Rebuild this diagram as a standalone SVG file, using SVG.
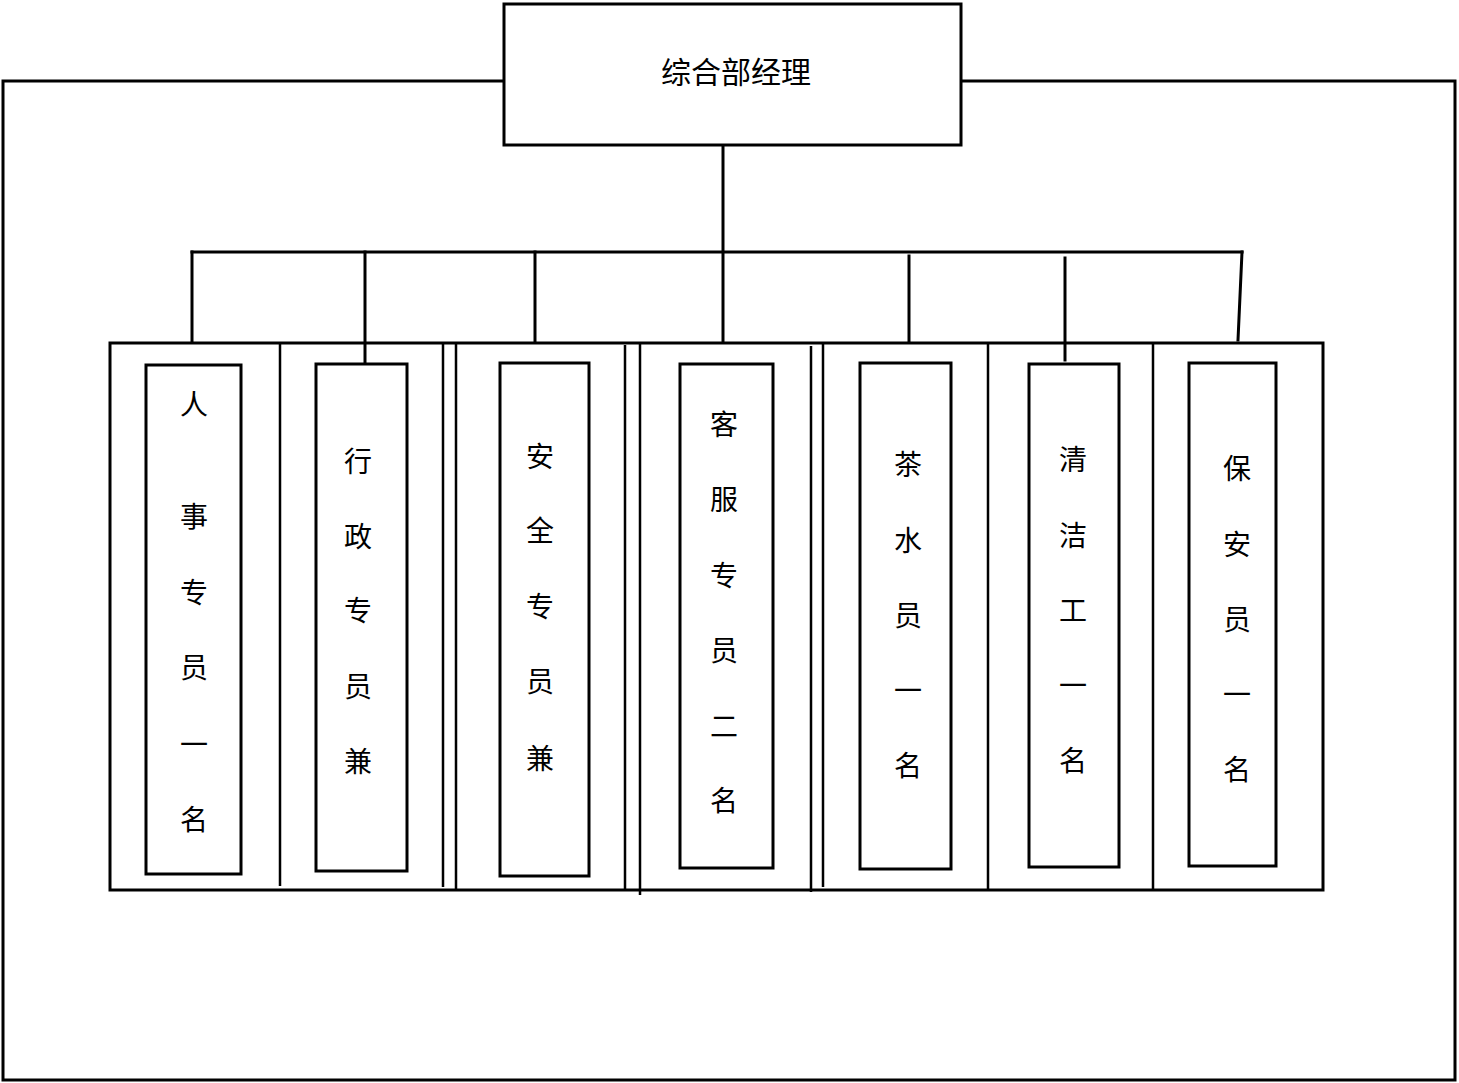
<svg xmlns="http://www.w3.org/2000/svg" width="1459" height="1083" viewBox="0 0 1459 1083">
<style>
.ln{stroke:#000;stroke-width:3;fill:none;stroke-linecap:square}
.dv{stroke:#000;stroke-width:2.5;fill:none}
.bx{stroke:#000;stroke-width:3;fill:#fff}
.t{font-family:"Liberation Serif","Noto Sans CJK SC",serif;font-size:28px;fill:#000;text-anchor:middle}
.tt{font-family:"Liberation Serif","Noto Sans CJK SC",serif;font-size:30px;fill:#000;text-anchor:middle}
</style>
<rect width="1459" height="1083" fill="#fff"/>
<g id="connectors">
<polyline class="ln" points="503,81 3,81 3,1080 1455,1080 1455,81 961,81"/>
<line class="ln" x1="723" y1="146" x2="723" y2="342"/>
<line class="ln" x1="192" y1="252" x2="1242" y2="252"/>
<line class="ln" x1="192" y1="252" x2="192" y2="342"/>
<line class="ln" x1="365" y1="252" x2="365" y2="362"/>
<line class="ln" x1="535" y1="252" x2="535" y2="342"/>
<line class="ln" x1="909" y1="256" x2="909" y2="342"/>
<line class="ln" x1="1065" y1="258" x2="1065" y2="360"/>
<line class="ln" x1="1242" y1="252" x2="1238" y2="340"/>
</g>
<g id="manager">
<rect class="bx" x="504" y="4" width="457" height="141"/>
<text class="tt" x="736" y="83">综合部经理</text>
</g>
<g id="panel">
<rect class="ln" x="110" y="343" width="1213" height="547"/>
<line class="dv" x1="280" y1="343" x2="280" y2="886"/>
<line class="dv" x1="443" y1="343" x2="443" y2="887"/>
<line class="dv" x1="456" y1="343" x2="456" y2="889"/>
<line class="dv" x1="625" y1="345" x2="625" y2="890"/>
<line class="dv" x1="640" y1="343" x2="640" y2="895"/>
<line class="dv" x1="811" y1="346" x2="811" y2="892"/>
<line class="dv" x1="823" y1="343" x2="823" y2="887"/>
<line class="dv" x1="988" y1="343" x2="988" y2="889"/>
<line class="dv" x1="1153" y1="343" x2="1153" y2="889"/>
</g>
<g id="n1">
<rect class="bx" x="146" y="365" width="95" height="509"/>
<text class="t" x="194" y="415">人</text>
<text class="t" x="194" y="527">事</text>
<text class="t" x="194" y="603">专</text>
<text class="t" x="194" y="678">员</text>
<text class="t" x="194" y="755">一</text>
<text class="t" x="194" y="830">名</text>
</g>
<g id="n2">
<rect class="bx" x="316" y="364" width="91" height="507"/>
<text class="t" x="358" y="472">行</text>
<text class="t" x="358" y="547">政</text>
<text class="t" x="358" y="621">专</text>
<text class="t" x="358" y="697">员</text>
<text class="t" x="358" y="772">兼</text>
</g>
<g id="n3">
<rect class="bx" x="500" y="363" width="89" height="513"/>
<text class="t" x="540" y="467">安</text>
<text class="t" x="540" y="541">全</text>
<text class="t" x="540" y="617">专</text>
<text class="t" x="540" y="692">员</text>
<text class="t" x="540" y="769">兼</text>
</g>
<g id="n4">
<rect class="bx" x="680" y="364" width="93" height="504"/>
<text class="t" x="724" y="435">客</text>
<text class="t" x="724" y="510">服</text>
<text class="t" x="724" y="586">专</text>
<text class="t" x="724" y="661">员</text>
<text class="t" x="724" y="737">二</text>
<text class="t" x="724" y="811">名</text>
</g>
<g id="n5">
<rect class="bx" x="860" y="363" width="91" height="506"/>
<text class="t" x="908" y="475">茶</text>
<text class="t" x="908" y="551">水</text>
<text class="t" x="908" y="626">员</text>
<text class="t" x="908" y="701">一</text>
<text class="t" x="908" y="776">名</text>
</g>
<g id="n6">
<rect class="bx" x="1029" y="364" width="90" height="503"/>
<text class="t" x="1073" y="470">清</text>
<text class="t" x="1073" y="546">洁</text>
<text class="t" x="1073" y="621">工</text>
<text class="t" x="1073" y="696">一</text>
<text class="t" x="1073" y="771">名</text>
</g>
<g id="n7">
<rect class="bx" x="1189" y="363" width="87" height="503"/>
<text class="t" x="1237" y="479">保</text>
<text class="t" x="1237" y="555">安</text>
<text class="t" x="1237" y="630">员</text>
<text class="t" x="1237" y="705">一</text>
<text class="t" x="1237" y="780">名</text>
</g>
</svg>
